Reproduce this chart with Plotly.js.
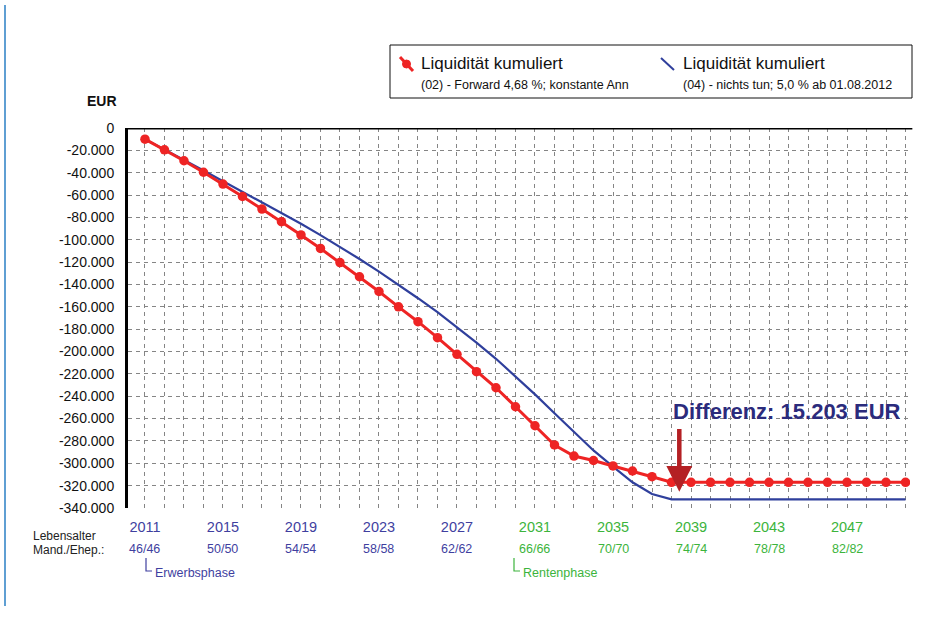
<!DOCTYPE html>
<html><head><meta charset="utf-8">
<script src="https://cdn.plot.ly/plotly-3.0.1.min.js"></script>
<style>body{margin:0;background:#fff}#chart{width:934px;height:619px}</style>
</head><body><div id="chart"></div>
<script>
const years = [2011,2012,2013,2014,2015,2016,2017,2018,2019,2020,2021,2022,2023,2024,2025,2026,2027,2028,2029,2030,
               2031,2032,2033,2034,2035,2036,2037,2038,2039,2040,2041,2042,2043,2044,2045,2046,2047,2048,2049,2050];
const redValues = [-10000,-19500,-29300,-39600,-50200,-61300,-72500,-83800,-95700,-107800,
                   -120400,-133100,-146300,-160000,-173300,-187600,-202500,-218000,-232400,-249400,
                   -266400,-283600,-293500,-297500,-302400,-306900,-312000,-317000,-317000,-317000,
                   -317000,-317000,-317000,-317000,-317000,-317000,-317000,-317000,-317000,-317000];
const blueValues = [-10000,-19000,-28600,-38000,-47500,-56800,-66300,-75900,-85700,-95800,
                    -106200,-117200,-128500,-140200,-152300,-164800,-178000,-192000,-206500,-222000,
                    -238300,-255200,-272000,-288500,-303000,-317000,-327500,-332200,-332200,-332200,
                    -332200,-332200,-332200,-332200,-332200,-332200,-332200,-332200,-332200,-332200];
const redName = 'Liquidität kumuliert';
const redSub = '(02) - Forward 4,68 %; konstante Ann';
const blueName = 'Liquidität kumuliert';
const blueSub = '(04) - nichts tun; 5,0 % ab 01.08.2012';
const yearTicks = [2011,2015,2019,2023,2027,2031,2035,2039,2043,2047];
const ageLabels = ['46/46','50/50','54/54','58/58','62/62','66/66','70/70','74/74','78/78','82/82'];
const tickPhase = ['E','E','E','E','E','R','R','R','R','R'];
const yTicks = [0,-20000,-40000,-60000,-80000,-100000,-120000,-140000,-160000,-180000,-200000,
                -220000,-240000,-260000,-280000,-300000,-320000,-340000];
const diffText = 'Differenz: 15.203 EUR';
const diffArrowFrom = [2038.4, -268000];
const diffArrowTo = [2038.4, -325500];

const BLUE_T = '#3f3f9f', GREEN_T = '#3cb43c';
const FONT = 'Liberation Sans, Arial';
const fmt = v => (v < 0 ? '-' : '') + Math.abs(v).toString().replace(/\B(?=(\d{3})+(?!\d))/g, '.');

const W = 934, H = 619, L = 128, R = 24, T = 128, B = 111;
const pw = W - L - R, ph = H - T - B;
const px = x => (x - L) / pw;
const py = y => (H - B - y) / ph;

const traces = [
  {x: years, y: blueValues, type: 'scatter', mode: 'lines', line: {color: '#2f3f9c', width: 2.2}, hoverinfo: 'skip'},
  {x: years, y: redValues, type: 'scatter', mode: 'lines+markers', line: {color: '#ee2424', width: 3},
   marker: {color: '#ee2424', size: 9.5, symbol: 'circle'}, hoverinfo: 'skip'}
];

const txt = (x, y, text, size, color, anchor) => ({x: px(x), xref: 'paper', y: py(y), yref: 'paper', text, showarrow: false,
  xanchor: anchor || 'left', yanchor: 'middle', font: {family: FONT, size, color}});

const annotations = [];
yearTicks.forEach((yr, i) => {
  annotations.push({x: yr, xref: 'x', y: py(549), yref: 'paper', text: ageLabels[i], showarrow: false,
    font: {family: FONT, size: 12.5, color: tickPhase[i] === 'E' ? BLUE_T : GREEN_T},
    xanchor: 'center', yanchor: 'middle'});
});
annotations.push(
  txt(31, 536, 'Lebensalter', 12, '#222'),
  txt(31, 550, 'Mand./Ehep.:', 12, '#222'),
  txt(153, 573, 'Erwerbsphase', 12.5, BLUE_T),
  txt(521, 573, 'Rentenphase', 12.5, GREEN_T),
  txt(119, 101, '<b>EUR</b>', 14, '#111', 'right'),
  txt(419, 64, redName, 17, '#111'),
  txt(419, 85, redSub, 12.5, '#111'),
  txt(681, 64, blueName, 17, '#111'),
  txt(681, 85, blueSub, 12.5, '#111'),
  txt(671, 411, '<b>' + diffText + '</b>', 22, '#2b2b7c'),
  {x: diffArrowTo[0], y: diffArrowTo[1], xref: 'x', yref: 'y', ax: diffArrowFrom[0], ay: diffArrowFrom[1], axref: 'x', ayref: 'y',
   text: '', showarrow: true, arrowhead: 2, arrowsize: 1.15, arrowwidth: 4.5, arrowcolor: '#b42024'}
);

const shapes = [
  {type: 'line', xref: 'paper', yref: 'paper', x0: px(5), x1: px(5), y0: py(5), y1: py(606), line: {color: '#2a7fc4', width: 1.5}},
  {type: 'line', xref: 'paper', yref: 'y', x0: 0, x1: 1.003, y0: 0, y1: 0, line: {color: '#000', width: 3}},
  {type: 'rect', xref: 'paper', yref: 'paper', x0: px(390), x1: px(912), y0: py(45), y1: py(98), line: {color: '#111', width: 1}, fillcolor: 'rgba(0,0,0,0)'},
  {type: 'line', xref: 'paper', yref: 'paper', x0: px(400), x1: px(413), y0: py(57), y1: py(71), line: {color: '#ee2424', width: 3}},
  {type: 'circle', xref: 'paper', yref: 'paper', x0: px(402.5), x1: px(410.5), y0: py(60), y1: py(68), line: {color: '#ee2424', width: 1}, fillcolor: '#ee2424'},
  {type: 'line', xref: 'paper', yref: 'paper', x0: px(661), x1: px(674), y0: py(58), y1: py(70), line: {color: '#2f3f9c', width: 2}},
  {type: 'path', xref: 'paper', yref: 'paper', path: `M ${px(146)} ${py(558)} L ${px(146)} ${py(571)} L ${px(152)} ${py(571)}`, line: {color: BLUE_T, width: 1.2}},
  {type: 'path', xref: 'paper', yref: 'paper', path: `M ${px(514)} ${py(558)} L ${px(514)} ${py(571)} L ${px(520)} ${py(571)}`, line: {color: GREEN_T, width: 1.2}}
];

const layout = {
  width: W, height: H, margin: {l: L, r: R, t: T, b: B}, showlegend: false,
  paper_bgcolor: '#fff', plot_bgcolor: '#fff',
  xaxis: {range: [2010.13, 2050.23], tickmode: 'array', tickvals: yearTicks,
    ticktext: yearTicks.map((y, i) => `<span style="color:${tickPhase[i] === 'E' ? BLUE_T : GREEN_T}">${y}</span>`),
    ticks: '', ticklabelstandoff: 8, tickfont: {family: FONT, size: 14.5, color: BLUE_T},
    showgrid: true, gridcolor: '#858585', gridwidth: 1, griddash: '4px,4px',
    minor: {dtick: 1, tick0: 2011, showgrid: true, gridcolor: '#858585', gridwidth: 1, griddash: '4px,4px'},
    zeroline: false, showline: false, fixedrange: true},
  yaxis: {range: [-340000, 0], tickmode: 'array', tickvals: yTicks, ticktext: yTicks.map(fmt),
    ticks: '', ticklabelstandoff: 8, tickfont: {family: FONT, size: 14, color: '#111'},
    showgrid: true, gridcolor: '#858585', gridwidth: 1, griddash: '4px,4px',
    zeroline: false, showline: true, linecolor: '#000', linewidth: 3, fixedrange: true},
  annotations, shapes
};

Plotly.newPlot('chart', traces, layout, {displayModeBar: false, staticPlot: true});
</script>
</body></html>
